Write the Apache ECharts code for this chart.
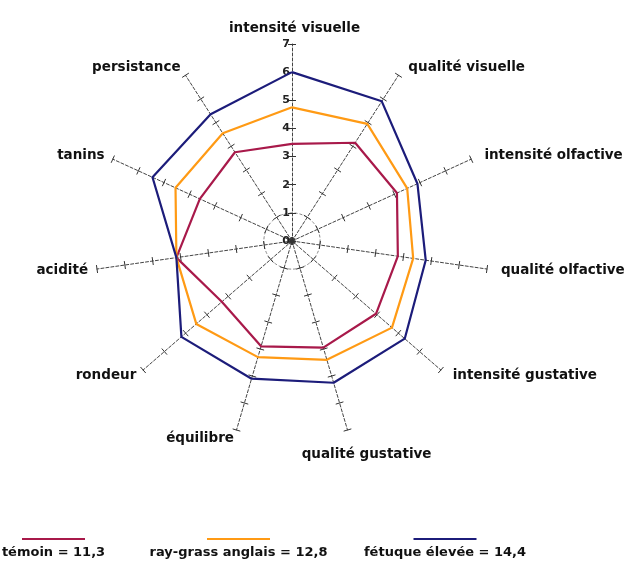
<!DOCTYPE html>
<html><head><meta charset="utf-8">
<script src="https://cdn.jsdelivr.net/npm/echarts@6/dist/echarts.min.js"></script>
<style>html,body{margin:0;padding:0;background:#fff}#c{width:628px;height:564px}</style>
</head><body><div id="c"></div>
<script>
// ---- data ----
const axesNames = ['intensité visuelle','qualité visuelle','intensité olfactive','qualité olfactive','intensité gustative','qualité gustative','équilibre','rondeur','acidité','tanins','persistance'];
const seriesNames = ['témoin','ray-grass anglais','fétuque élevée'];
const totals = [11.3, 12.8, 14.4];
const temoin   = [3.45, 4.15, 4.1, 3.8, 3.95, 3.95, 3.9, 3.3, 4.15, 3.6, 3.75];
const raygrass = [4.75, 4.95, 4.5, 4.35, 4.7, 4.4, 4.3, 4.5, 4.15, 4.55, 4.55];
const fetuque  = [6.0, 5.9, 4.9, 4.8, 5.3, 5.25, 5.1, 5.2, 4.15, 5.45, 5.35];
const scaleMax = 7;
const centeredNames = ['qualité gustative'];

// ---- styling ----
const colors = ['#a8194a', '#ff9a14', '#1c1c7a'];
const font = 'DejaVu Sans';
const center = [292, 241];
const radius = 197;

// ECharts lays radar indicators counter-clockwise: reverse to get clockwise order
const order = [0].concat(axesNames.map((_, i) => i).slice(1).reverse());
const valuesAll = [temoin, raygrass, fetuque];

const splitColors = [];
for (let i = 0; i <= scaleMax; i++) splitColors.push(i === 1 ? '#888' : 'rgba(0,0,0,0)');

const nameStyle = { color: '#111', fontFamily: font, fontWeight: 'bold', fontSize: 13.5 };
const tickStyle = { color: '#333', width: 1 };

const radarMain = {
  center: center, radius: radius, startAngle: 90, shape: 'circle', splitNumber: scaleMax,
  indicator: order.map(i => ({ name: centeredNames.includes(axesNames[i]) ? '' : axesNames[i], min: 0, max: scaleMax })),
  axisName: Object.assign({}, nameStyle, { padding: [0, 0, 0, 5] }),
  nameGap: 9,
  axisLine: { show: true, lineStyle: { color: '#444', width: 1, type: [3, 2] } },
  axisTick: { show: true, length: 4, lineStyle: tickStyle },
  axisLabel: { show: false },
  splitLine: { show: true, lineStyle: { color: splitColors, width: 1, type: [3, 2] } },
  splitArea: { show: false }
};
const radarAux = {
  center: center, radius: radius, startAngle: 90, shape: 'circle', splitNumber: scaleMax,
  indicator: order.map(i => ({ name: centeredNames.includes(axesNames[i]) ? axesNames[i] : '', min: 0, max: scaleMax })),
  axisName: Object.assign({}, nameStyle, { align: 'center', verticalAlign: 'top', padding: [0, 0, 0, 28] }),
  nameGap: 18,
  axisLine: { show: false },
  axisTick: { show: true, length: -4, lineStyle: tickStyle },
  axisLabel: { show: false },
  splitLine: { show: false },
  splitArea: { show: false }
};

// legend: a line above centred text (two legend components per series)
const lineCenters = [53.5, 238.5, 445];
const lineW = 63;
const ctx = document.createElement('canvas').getContext('2d');
ctx.font = 'bold 13px "' + font + '"';
const legends = [];
seriesNames.forEach((n, k) => {
  const label = n + ' = ' + totals[k].toFixed(1).replace('.', ',');
  const tw = ctx.measureText(label).width;
  legends.push({
    data: [n], left: lineCenters[k] - lineW / 2, top: 538, padding: 0,
    icon: 'rect', itemWidth: lineW, itemHeight: 2, selectedMode: false,
    formatter: () => '', textStyle: { fontSize: 1, lineHeight: 1 }
  });
  legends.push({
    data: [n], left: lineCenters[k] - tw / 2 - 5, top: 546, padding: 0,
    icon: 'rect', itemWidth: 0, itemHeight: 0, selectedMode: false,
    formatter: () => label,
    textStyle: { fontFamily: font, fontWeight: 'bold', fontSize: 13, color: '#111' }
  });
});

const chart = echarts.init(document.getElementById('c'), null, { renderer: 'canvas' });
chart.setOption({
  backgroundColor: '#fff',
  animation: false,
  radar: [radarMain, radarAux],
  grid: { left: center[0] - 1, top: center[1] - radius, width: 1, height: radius, containLabel: false },
  xAxis: { type: 'value', show: false },
  yAxis: {
    type: 'value', min: 0, max: scaleMax, interval: 1,
    axisLine: { show: false }, axisTick: { show: false }, splitLine: { show: false },
    axisLabel: { margin: 1, color: '#222', fontFamily: font, fontWeight: 'bold', fontSize: 11 }
  },
  legend: legends,
  series: [{
    type: 'radar', radarIndex: 0, symbol: 'none',
    data: seriesNames.map((n, k) => ({
      name: n, value: order.map(i => valuesAll[k][i]),
      lineStyle: { color: colors[k], width: 2.2 }, itemStyle: { color: colors[k] }
    }))
  }]
});
</script></body></html>
